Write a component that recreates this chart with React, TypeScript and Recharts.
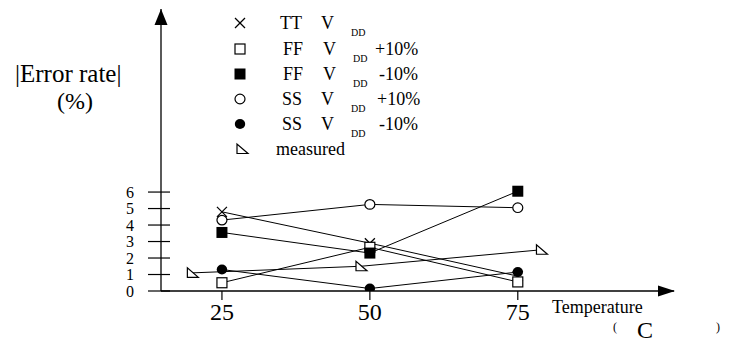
import { LineChart, Line, XAxis, YAxis, ReferenceDot } from 'recharts';

// temperatures (deg C) on the x axis
const temperatures = [25, 50, 75];
// |error rate| in %, one array per corner
const ttVdd = [4.8, 2.9, 0.9];
const ffVddPlus = [0.5, 2.65, 0.55];
const ffVddMinus = [3.55, 2.3, 6.05];
const ssVddPlus = [4.3, 5.25, 5.05];
const ssVddMinus = [1.3, 0.15, 1.15];
// measured points sit at slightly different temperatures
const measuredTemps = [20, 48.5, 79];
const measuredRates = [1.1, 1.5, 2.5];

const xTicks = [25, 50, 75];
const yTicks = [0, 1, 2, 3, 4, 5, 6];
const xDomain = [14.7, 101.4];
const yDomain = [0, 17.1];

const FONT = 'Liberation Serif, serif';
const serif = { fontFamily: FONT };

type MarkerKind = 'cross' | 'openSquare' | 'filledSquare' | 'openCircle' | 'filledCircle' | 'triangle';

const toPoints = (xs: number[], ys: number[]) => xs.map((t, i) => ({ t, v: ys[i] }));

const Marker = ({ kind, cx, cy }: { kind: MarkerKind; cx: number; cy: number }) => {
  switch (kind) {
    case 'cross':
      return (
        <g stroke="#000" strokeWidth={1.3}>
          <line x1={cx - 5} y1={cy - 5} x2={cx + 5} y2={cy + 5} />
          <line x1={cx - 5} y1={cy + 5} x2={cx + 5} y2={cy - 5} />
        </g>
      );
    case 'openSquare':
      return <rect x={cx - 5} y={cy - 5} width={10} height={10} fill="#fff" stroke="#000" strokeWidth={1.2} />;
    case 'filledSquare':
      return <rect x={cx - 5.5} y={cy - 5.5} width={11} height={11} fill="#000" />;
    case 'openCircle':
      return <ellipse cx={cx} cy={cy} rx={5} ry={4.8} fill="#fff" stroke="#000" strokeWidth={1.2} />;
    case 'filledCircle':
      return <ellipse cx={cx} cy={cy} rx={5.2} ry={5} fill="#000" />;
    case 'triangle':
      return (
        <path
          d={`M${cx - 5},${cy - 5} L${cx - 5},${cy + 4.5} L${cx + 6},${cy + 4.5} Z`}
          fill="#fff"
          stroke="#000"
          strokeWidth={1.2}
        />
      );
  }
};

const series: { name: string; kind: MarkerKind; data: { t: number; v: number }[] }[] = [
  { name: 'tt', kind: 'cross', data: toPoints(temperatures, ttVdd) },
  { name: 'ffPlus', kind: 'openSquare', data: toPoints(temperatures, ffVddPlus) },
  { name: 'ffMinus', kind: 'filledSquare', data: toPoints(temperatures, ffVddMinus) },
  { name: 'ssPlus', kind: 'openCircle', data: toPoints(temperatures, ssVddPlus) },
  { name: 'ssMinus', kind: 'filledCircle', data: toPoints(temperatures, ssVddMinus) },
  { name: 'measured', kind: 'triangle', data: toPoints(measuredTemps, measuredRates) }
];

const YTick = ({ x, y, payload }: any) => (
  <g>
    <line x1={x - 13} x2={x + 9} y1={y} y2={y} stroke="#000" strokeWidth={1.2} />
    <text x={x - 27} y={y + 5.5} textAnchor="end" fontSize={16} style={serif} fill="#000">
      {payload.value}
    </text>
  </g>
);

const XTick = ({ x, y, payload }: any) => (
  <g>
    <line x1={x} x2={x} y1={y} y2={y + 9} stroke="#000" strokeWidth={1.2} />
    <text x={x} y={y + 29} textAnchor="middle" fontSize={24} style={serif} fill="#000">
      {payload.value}
    </text>
  </g>
);

const legendRows: { kind: MarkerKind; mx: number; name: string; nx: number; vx: number; suffix?: string; sx?: number }[] = [
  { kind: 'cross', mx: 240, name: 'TT', nx: 280, vx: 321 },
  { kind: 'openSquare', mx: 240, name: 'FF', nx: 283, vx: 323, suffix: '+10%', sx: 375 },
  { kind: 'filledSquare', mx: 240, name: 'FF', nx: 283, vx: 323, suffix: '-10%', sx: 379 },
  { kind: 'openCircle', mx: 240, name: 'SS', nx: 282, vx: 321, suffix: '+10%', sx: 377 },
  { kind: 'filledCircle', mx: 240, name: 'SS', nx: 282, vx: 321, suffix: '-10%', sx: 379 },
  { kind: 'triangle', mx: 242, name: 'measured', nx: 276, vx: 0 }
];
const legendY = [23, 49, 74, 99, 124, 149];

export default function App() {
  return (
    <div style={{ position: 'absolute', left: 0, top: 0, width: 733, height: 342, background: '#fff' }}>
      <LineChart width={733} height={342} margin={{ top: 9, right: 59, bottom: 0, left: 0 }}>
        <XAxis
          type="number"
          dataKey="t"
          domain={xDomain}
          allowDataOverflow
          ticks={xTicks}
          interval={0}
          height={51}
          tickSize={0}
          tickMargin={0}
          tickLine={false}
          axisLine={{ stroke: '#000', strokeWidth: 1.3 }}
          tick={<XTick />}
        />
        <YAxis
          type="number"
          dataKey="v"
          domain={yDomain}
          allowDataOverflow
          ticks={yTicks}
          interval={0}
          width={161}
          tickSize={0}
          tickMargin={0}
          tickLine={false}
          axisLine={{ stroke: '#000', strokeWidth: 1.3 }}
          tick={<YTick />}
        />
        {series.map((s) => (
          <Line
            key={s.name}
            data={s.data}
            dataKey="v"
            type="linear"
            stroke="#000"
            strokeWidth={1}
            isAnimationActive={false}
            dot={(p: any) => <Marker key={`${s.name}-${p.index}`} kind={s.kind} cx={p.cx} cy={p.cy} />}
            activeDot={false}
          />
        ))}
        <ReferenceDot
          x={xDomain[1]}
          y={0}
          ifOverflow="visible"
          shape={(p: any) => (
            <path d={`M${p.cx + 1},${p.cy} L${p.cx - 16},${p.cy - 5.5} L${p.cx - 16},${p.cy + 5.5} Z`} fill="#000" />
          )}
        />
        <ReferenceDot
          x={xDomain[0]}
          y={yDomain[1]}
          ifOverflow="visible"
          shape={(p: any) => (
            <path d={`M${p.cx},${p.cy} L${p.cx - 6.5},${p.cy + 16} L${p.cx + 6.5},${p.cy + 16} Z`} fill="#000" />
          )}
        />
      </LineChart>
      <svg
        width={733}
        height={342}
        style={{ position: 'absolute', left: 0, top: 0, pointerEvents: 'none', fontFamily: FONT }}
        fill="#000"
      >
        <text x={15} y={82} fontSize={25}>|Error rate|</text>
        <text x={57} y={109} fontSize={24}>(%)</text>
        {legendRows.map((r, i) => {
          const y = legendY[i];
          return (
            <g key={i}>
              <Marker kind={r.kind} cx={r.mx} cy={y} />
              <text x={r.nx} y={y + 6} fontSize={18}>{r.name}</text>
              {r.vx > 0 && (
                <>
                  <text x={r.vx} y={y + 6} fontSize={18}>V</text>
                  <text x={r.vx + 30} y={y + 12.5} fontSize={10}>DD</text>
                </>
              )}
              {r.suffix && (
                <text x={r.sx} y={y + 6} fontSize={18}>{r.suffix}</text>
              )}
            </g>
          );
        })}
        <text x={552} y={313} fontSize={18}>Temperature</text>
        <text x={613} y={331} fontSize={12}>(</text>
        <text x={637} y={338} fontSize={24}>C</text>
        <text x={716} y={331} fontSize={12}>)</text>
      </svg>
    </div>
  );
}
